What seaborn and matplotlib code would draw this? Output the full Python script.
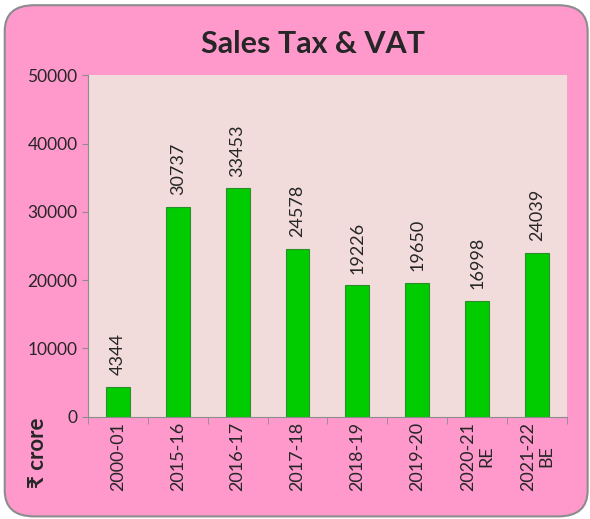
import pandas as pd
import seaborn as sns
import matplotlib.pyplot as plt
from matplotlib.patches import FancyBboxPatch

# --- dati ---
years = ['2000-01', '2015-16', '2016-17', '2017-18', '2018-19', '2019-20', '2020-21\nRE', '2021-22\nBE']
sales_tax = [4344, 30737, 33453, 24578, 19226, 19650, 16998, 24039]

df = pd.DataFrame({'year': years, 'value': sales_tax})

sns.set_style("white")
plt.rcParams['font.family'] = ['Lato', 'DejaVu Sans']

fig = plt.figure(figsize=(5.9, 5.19), dpi=100)
fig.patch.set_facecolor('white')

# sfondo arrotondato rosa
bg = FancyBboxPatch((0.008, 0.005), 0.988, 0.985, boxstyle="round,pad=0,rounding_size=0.05",
                    transform=fig.transFigure, facecolor='#FF99CC', edgecolor='#8C8C8C',
                    linewidth=1.5, zorder=-10)
fig.patches.append(bg)

ax = fig.add_axes([0.149, 0.197, 0.812, 0.658])
ax.set_facecolor('#F2DCDB')

sns.barplot(data=df, x='year', y='value', color='#00CC00', width=0.4,
            edgecolor='#2E8B2E', linewidth=0.8, saturation=1, ax=ax)

for i, v in enumerate(sales_tax):
    ax.text(i, v + 1700, str(v), rotation=90, ha='center', va='bottom', fontsize=13)

ax.set_ylim(0, 50000)
ax.set_yticks(range(0, 50001, 10000))
ax.set_xlim(-0.5, len(years) - 0.5)
ax.set_xlabel('')
ax.set_ylabel('')
ax.tick_params(axis='y', labelsize=12.5, length=4, color='#8C8C8C', left=True)
ax.tick_params(axis='x', labelsize=13, rotation=90, length=0)
ax.set_xticks([i + 0.5 for i in range(-1, len(years))], minor=True)
ax.tick_params(axis='x', which='minor', length=5, color='#8C8C8C', bottom=True)

for lab in ax.get_xticklabels():
    lab.set_multialignment('center')

for s in ['top', 'right']:
    ax.spines[s].set_visible(False)
for s in ['left', 'bottom']:
    ax.spines[s].set_color('#8C8C8C')

fig.text(0.53, 0.915, 'Sales Tax & VAT', ha='center', va='center', fontsize=22, fontweight='bold')
fig.text(0.063, 0.127, '₹ crore', rotation=90, ha='center', va='center', fontsize=16, fontweight='bold')

plt.savefig('out.png', dpi=100)
